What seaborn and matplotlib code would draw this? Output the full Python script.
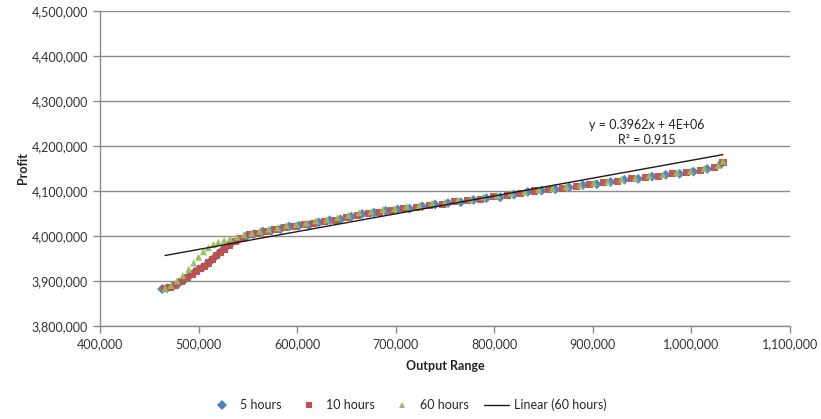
import matplotlib
matplotlib.use("Agg")
import matplotlib.pyplot as plt
from matplotlib.ticker import FuncFormatter, MultipleLocator
from matplotlib.lines import Line2D
import seaborn as sns
import pandas as pd
import numpy as np

# Output (thousands) and profit (thousands) for each run length
x_5h = [463, 468, 474, 480, 486, 491, 496, 500, 504, 508, 512, 516, 520, 524, 528, 533, 540, 548,
        556, 565, 574, 583, 592, 602, 612, 622, 633, 644, 655, 666, 678, 690, 702, 714, 727, 740,
        753, 766, 779, 792, 806, 820, 834, 848, 862, 876, 890, 904, 918, 932, 946, 960, 974, 988,
        1002, 1016, 1030]
y_5h = [3882, 3884, 3888, 3895, 3903, 3912, 3920, 3926, 3930, 3936, 3944, 3952, 3960, 3968, 3975,
        3983, 3991, 3998, 4004, 4010, 4012, 4015, 4021, 4023, 4024, 4030, 4035, 4037, 4043, 4049,
        4052, 4056, 4059, 4061, 4066, 4070, 4073, 4075, 4080, 4084, 4086, 4092, 4098, 4101, 4104,
        4108, 4113, 4115, 4120, 4125, 4127, 4132, 4136, 4138, 4143, 4149, 4160]

x_10h = [465, 471, 477, 483, 489, 494, 498, 502, 506, 510, 514, 518, 522, 526, 531, 537, 544, 552,
         560, 569, 578, 587, 597, 607, 617, 628, 639, 650, 661, 672, 684, 696, 708, 721, 734, 747,
         760, 773, 786, 799, 813, 827, 841, 855, 869, 883, 897, 911, 925, 939, 953, 967, 981, 995,
         1009, 1023, 1032]
y_10h = [3883, 3886, 3891, 3898, 3907, 3915, 3922, 3927, 3933, 3940, 3948, 3956, 3964, 3971, 3979,
         3987, 3995, 4003, 4006, 4011, 4014, 4019, 4022, 4026, 4028, 4032, 4035, 4041, 4045, 4051,
         4053, 4056, 4061, 4064, 4068, 4071, 4076, 4078, 4082, 4087, 4090, 4094, 4100, 4103, 4106,
         4111, 4114, 4119, 4122, 4127, 4130, 4133, 4138, 4141, 4145, 4152, 4163]

x_60h = [466, 472, 478, 484, 490, 495, 500, 505, 510, 515, 520, 526, 532, 539, 546, 554, 562, 571,
         580, 589, 599, 609, 619, 630, 641, 652, 663, 675, 687, 699, 711, 724, 737, 750, 763, 776,
         789, 803, 817, 831, 845, 859, 873, 887, 901, 915, 929, 943, 957, 971, 985, 999, 1013,
         1027, 1032]
y_60h = [3884, 3890, 3900, 3912, 3926, 3940, 3953, 3965, 3974, 3981, 3986, 3990, 3994, 3998, 4003,
         4006, 4011, 4015, 4018, 4023, 4026, 4029, 4034, 4036, 4041, 4046, 4052, 4054, 4059, 4061,
         4066, 4068, 4073, 4075, 4080, 4082, 4087, 4090, 4095, 4098, 4103, 4106, 4110, 4113, 4118,
         4121, 4126, 4129, 4134, 4136, 4141, 4144, 4150, 4157, 4166]

series_names = ["5 hours", "10 hours", "60 hours"]
series_colors = ["#4F81BD", "#C0504D", "#9BBB59"]
series_markers = ["D", "s", "^"]

# Linear trendline for the 60 hours run
trend_slope = 0.3962
trend_intercept = 3772000
trend_r2 = 0.915

frames = []
for name, xs, ys in zip(series_names, [x_5h, x_10h, x_60h], [y_5h, y_10h, y_60h]):
    frames.append(pd.DataFrame({"output": np.array(xs) * 1000.0,
                                "profit": np.array(ys) * 1000.0,
                                "series": name}))
df = pd.concat(frames, ignore_index=True)

sns.set_theme(style="white")
plt.rcParams["font.family"] = ["Lato", "DejaVu Sans"]

fig = plt.figure(figsize=(8.21, 4.19), dpi=100)
ax = fig.add_axes([100 / 821, 1 - 326 / 419, 690 / 821, 315 / 419])

palette = dict(zip(series_names, series_colors))
markers = dict(zip(series_names, series_markers))
sns.scatterplot(data=df, x="output", y="profit", hue="series", style="series",
                palette=palette, markers=markers, hue_order=series_names,
                style_order=series_names, s=26, linewidth=0, alpha=0.95,
                legend=False, ax=ax, zorder=3)

green = df[df["series"] == "60 hours"]
tx = np.array([green["output"].min(), green["output"].max()])
ax.plot(tx, trend_slope * tx + trend_intercept, color="#1a1a1a", lw=1.0, zorder=4)

ax.text(955000, 4230000, f"y = {trend_slope}x + 4E+06\nR\u00b2 = {trend_r2}",
        ha="center", va="center", fontsize=9, color="#222222", linespacing=1.25)

ax.set_xlim(400000, 1100000)
ax.set_ylim(3800000, 4500000)
ax.xaxis.set_major_locator(MultipleLocator(100000))
ax.yaxis.set_major_locator(MultipleLocator(100000))
fmt = FuncFormatter(lambda v, p: f"{int(round(v)):,}")
ax.xaxis.set_major_formatter(fmt)
ax.yaxis.set_major_formatter(fmt)

ax.grid(axis="y", color="#8c8c8c", lw=1.0)
ax.grid(axis="x", visible=False)
ax.set_axisbelow(True)
for side in ["top", "right"]:
    ax.spines[side].set_visible(False)
for side in ["left", "bottom"]:
    ax.spines[side].set_color("#8c8c8c")
    ax.spines[side].set_linewidth(1.0)
ax.tick_params(axis="both", which="major", length=5, width=1.0, color="#8c8c8c",
               labelsize=9, labelcolor="#333333", direction="out", bottom=True, left=True)

ax.set_xlabel("Output Range", fontsize=9, fontweight="bold", color="#222222", labelpad=7)
ax.set_ylabel("Profit", fontsize=9, fontweight="bold", color="#222222", labelpad=2)

handles = [Line2D([], [], marker=m, color=c, linestyle="none", markersize=4.8, markeredgewidth=0)
           for m, c in zip(series_markers, series_colors)]
handles.append(Line2D([], [], color="#1a1a1a", lw=1.0))
labels = series_names + ["Linear (60 hours)"]
fig.legend(handles, labels, loc="center", bbox_to_anchor=(408 / 821, 1 - 405 / 419),
           ncol=4, frameon=False, fontsize=9, handlelength=2.0, columnspacing=1.2,
           handletextpad=0.4)

fig.savefig("out.png", dpi=100, facecolor="white")
